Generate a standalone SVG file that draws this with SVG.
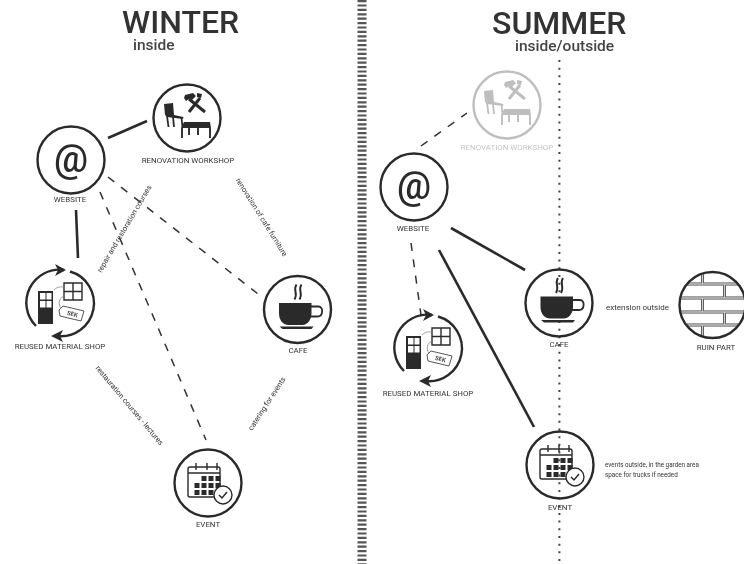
<svg xmlns="http://www.w3.org/2000/svg" width="744" height="564" viewBox="0 0 744 564">
<style>
text{font-family:Roboto,"Liberation Sans",sans-serif;fill:#333}
.t{font-size:32px;font-weight:500;fill:#333}
.s{font-size:15.500px;font-weight:500;fill:#444}
.l{font-size:7.900px;text-anchor:middle}
.c{font-size:7.500px}
.m{text-anchor:middle}
.ring{fill:none;stroke:#2b2b2b;stroke-width:2.400}
.solid{stroke:#2b2b2b;stroke-width:2.600;fill:none}
.dash{stroke:#333;stroke-width:1.500;stroke-dasharray:8 8.500;fill:none}
.ic{fill:none;stroke:#2b2b2b;stroke-width:1.400}
.fk{fill:#2b2b2b;stroke:none}
</style>
<defs>
<filter id="soft" x="0" y="0" width="100%" height="100%"><feGaussianBlur stdDeviation="0.35"/></filter>
<clipPath id="rc"><circle r="32"/></clipPath>
<g id="reno">
<circle class="ring" r="33.500"/>
<path class="fk" d="M-23-14-14-15-13-3-3.500-1-4 1-20-1-22-3z"/>
<path class="ic" style="stroke-width:1.800" d="M-20-2-18.500 9M-14-1-13 9M-5.500 0-4.500 9"/>
<path class="fk" d="M-3 4H23L24 10H-6z"/>
<path class="ic" style="stroke-width:1.900" d="M-5 10V20M2 10V17M11 10V17M23 10V20"/>
<path fill="none" stroke="#2b2b2b" stroke-width="3" d="M2-6 13-20M2-19 18-6"/>
<path class="fk" d="M-2-23 6-25 9-22 5-18 2-19-1-17-3-20zM10-25 15-24 14-20 10-21z"/>
</g>
<g id="web">
<circle class="ring" r="33.500"/>
<text y="12" text-anchor="middle" style="font-size:38px;font-weight:500;fill:#2b2b2b">@</text>
</g>
<g id="shop">
<path class="ring" d="M-24 23A33 33 0 0 1 4-33"/>
<path class="ring" d="M10-31.500A33 33 0 0 1-3 33"/>
<path class="fk" d="M6-33-5-39-2-33-5-27zM-9 33 3 27 0 33 3 39z"/>
<path class="fk" d="M-22-12H-7V21H-22z"/>
<path d="M-20-10h5.500v6.500h-5.500zM-13.500-10h5v6.500h-5zM-20-2h5.500v6.500h-5.500zM-13.500-2h5v6.500h-5z" fill="#fff"/>
<path class="ic" d="M4-20H22V-3H4zM13-20V-3M4-11.500H22"/>
<path fill="none" stroke="#777" stroke-width=".7" d="M-6-13C-2-17 1-16 4-16M4-7C-3-4-1 4 2 7"/>
<path fill="#fff" stroke="#444" stroke-width=".9" d="M3 3 24 8 21 18 0 13-1 7z"/>
<text x="12" y="13" transform="rotate(14 12 13)" text-anchor="middle" style="font-size:6px;font-weight:500">SEK</text>
</g>
<g id="cafe">
<circle class="ring" r="33.500"/>
<path class="fk" d="M-18.500-6.500H14V4C14 11 9 15.500 5 15.500H-9C-14 15.500-18.500 11-18.500 4z"/>
<path class="ic" style="stroke-width:1.800" d="M13-3H21C26-3 26 7 20 7H11"/>
<path class="fk" d="M-18 17H16L14 19.500H-15z"/>
<path class="ic" style="stroke-width:1.900" d="M-1-25C-5-19 1-17-3-10M4-25C0-19 6-17 2-10"/>
</g>
<g id="event">
<circle class="ring" r="33.500"/>
<rect class="ic" x="-20" y="-16" width="32" height="30" rx="2"/>
<path class="ic" d="M-20-10H12M-12-20V-13M-1-20V-13M9-20V-13"/>
<path class="fk" d="M-6.500-7h5v5h-5zM.5-7h5v5h-5zM7.500-7h5v5h-5zM-13.500 0h5v5h-5zM-6.500 0h5v5h-5zM.5 0h5v5h-5zM7.500 0h5v5h-5zM-13.500 7h5v5h-5zM-6.500 7h5v5h-5zM.5 7h5v5h-5z"/>
<circle cx="15" cy="12" r="9" fill="#fff" stroke="#2b2b2b" stroke-width="1.400"/>
<path fill="none" stroke="#2b2b2b" stroke-width="1.500" d="M11 12l3 3 5-6"/>
</g>
<path id="bricks" d="M-40-21H40M-40-7H40M-40 7H40M-40 20H40M-10-35V-21M12-21V-7M-10-7V7M12 7V20M-10 20V35"/>
</defs>
<g filter="url(#soft)">
<rect width="744" height="564" fill="#fff"/>
<g id="connectors">
<path class="solid" d="M108 138 147 121"/>
<path class="solid" d="M76 210 78 258"/>
<path class="dash" d="M108 177 262 297"/>
<path class="dash" d="M100 192 206 440"/>
<path class="dash" d="M421 146 467 113"/>
<path class="dash" d="M411 243 421 315"/>
<path class="solid" d="M451 228 525 270"/>
<path class="solid" d="M439 250 534 427"/>
<path id="divider" fill="none" stroke="#555" stroke-width="9" stroke-dasharray="2.200 2.200" d="M362 0V564"/>
<path id="axis" fill="none" stroke="#444" stroke-width="2" stroke-dasharray="2 5.677" d="M559.400 60V564"/>
</g>

<g id="titles">
<text class="t" x="122" y="33">WINTER</text>
<text class="s" x="133" y="50">inside</text>
<text class="t" x="492" y="34">SUMMER</text>
<text class="s" x="515" y="51">inside/outside</text>
</g>

<g id="connector-labels">
<text class="c m" transform="translate(126.500 230) rotate(-59.500)">repair and restoration courses</text>
<text class="c m" transform="translate(259.500 218.500) rotate(58)">renovation of cafe furniture</text>
<text class="c m" transform="translate(127.600 407) rotate(50)">restauration courses - lectures</text>
<text class="c m" transform="translate(269 405) rotate(-57)">catering for events</text>
<text class="c" style="font-size:8px" x="606" y="310">extension outside</text>
<text class="c" style="font-size:6.300px" x="605" y="467">events outside, in the garden area</text>
<text class="c" style="font-size:6.300px" x="605" y="477">space for trucks if needed</text>
</g>

<g id="w-website"><use href="#web" x="71" y="160"/><text class="l" x="70" y="202">WEBSITE</text></g>
<g id="w-renovation"><use href="#reno" x="187" y="118"/><text class="l" x="188" y="163">RENOVATION WORKSHOP</text></g>
<g id="w-shop"><use href="#shop" x="60" y="303"/><text class="l" x="60" y="349">REUSED MATERIAL SHOP</text></g>
<g id="w-cafe"><use href="#cafe" x="297.500" y="309.500"/><text class="l" x="298" y="353">CAFE</text></g>
<g id="w-event"><use href="#event" x="208" y="483"/><text class="l" x="208" y="527">EVENT</text></g>

<g id="s-renovation" opacity=".3"><use href="#reno" x="507" y="105"/><text class="l" x="507" y="150">RENOVATION WORKSHOP</text></g>
<g id="s-website"><use href="#web" x="414" y="187"/><text class="l" x="413" y="231">WEBSITE</text></g>
<g id="s-shop"><use href="#shop" x="428" y="348"/><text class="l" x="428" y="396">REUSED MATERIAL SHOP</text></g>
<g id="s-cafe"><use href="#cafe" x="559" y="303"/><text class="l" x="559" y="347">CAFE</text></g>
<g id="s-event"><use href="#event" x="560" y="465"/><text class="l" x="560" y="510">EVENT</text></g>
<g id="s-ruin">
<g transform="translate(712.500 305)"><g clip-path="url(#rc)"><use href="#bricks" fill="none" stroke="#444" stroke-width="3"/><use href="#bricks" fill="none" stroke="#ccc" stroke-width="1.400"/></g><circle class="ring" r="33"/></g>
<text class="l" x="716" y="350">RUIN PART</text>
</g>
</g>
</svg>
